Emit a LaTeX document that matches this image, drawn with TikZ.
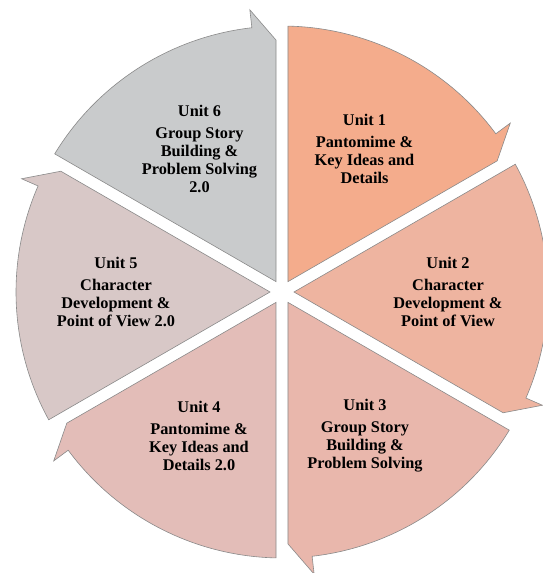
\documentclass[tikz,border=0pt]{standalone}
\usepackage{fontspec}
\setmainfont{Liberation Serif}
\definecolor{cA}{HTML}{F4AC8C}
\definecolor{cB}{HTML}{EEB4A0}
\definecolor{cC}{HTML}{E9B7AC}
\definecolor{cD}{HTML}{E3BDB8}
\definecolor{cE}{HTML}{D8C8C7}
\definecolor{cF}{HTML}{C9CBCC}
\definecolor{edgegray}{HTML}{8A8A8A}
\tikzset{
  seg/.style={draw=edgegray, line width=0.6pt, line join=miter},
  lbl/.style={align=center, font=\bfseries\fontsize{16.3}{18}\selectfont, text=black, inner sep=0pt}
}
\newcommand{\segment}[2]{%
  \pgfmathsetmacro{\aS}{#1-1.29}%
  \pgfmathsetmacro{\aE}{#1-60+6.5}%
  \pgfmathsetmacro{\aB}{#1-60+1.36}%
  \pgfmathsetmacro{\aM}{#1-30}%
  \filldraw[seg, fill=#2] (\aM:12) -- (\aS:266) arc[start angle=\aS, end angle=\aE, radius=266] -- (\aE:284) -- (\aB:252) -- cycle;%
}
\begin{document}
\begin{tikzpicture}[x=1pt,y=1pt]
\useasboundingbox (-282,-281) rectangle (260,292);
\segment{90}{cA}
\segment{30}{cB}
\segment{-30}{cC}
\segment{-90}{cD}
\segment{-150}{cE}
\segment{150}{cF}
\node[lbl] (u1) at (60:165) {Unit 1\\[4pt]Pantomime \&\\Key Ideas and\\Details};
\node[lbl] (u2) at (0:166) {Unit 2\\[4pt]Character\\Development \&\\Point of View};
\node[lbl] (u3) at (-60:166) {Unit 3\\[4pt]Group Story\\Building \&\\Problem Solving};
\node[lbl] (u4) at (-120:166) {Unit 4\\[4pt]Pantomime \&\\Key Ideas and\\Details 2.0};
\node[lbl] (u5) at (180:166) {Unit 5\\[4pt]Character\\Development \&\\Point of View 2.0};
\node[lbl] (u6) at (120:165) {Unit 6\\[4pt]Group Story\\Building \&\\Problem Solving\\2.0};
\end{tikzpicture}
\end{document}
